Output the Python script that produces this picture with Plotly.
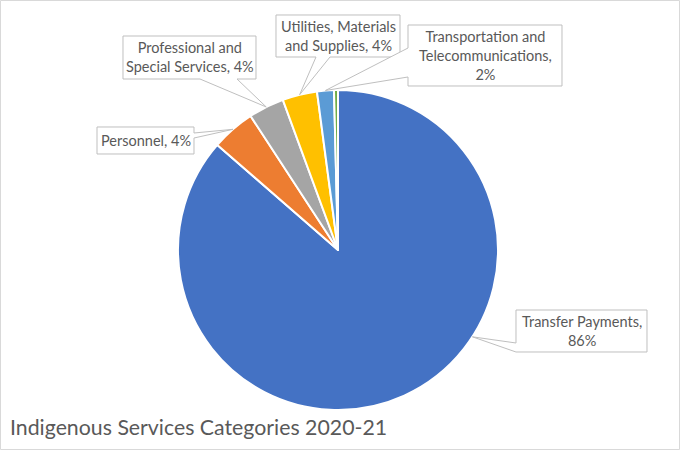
import math
import plotly.graph_objects as go

# data (percent of total spending)
categories = [
    "Transfer Payments",
    "Personnel",
    "Professional and Special Services",
    "Utilities, Materials and Supplies",
    "Transportation and Telecommunications",
    "Other",
]
shares = [86.4, 4.4, 3.6, 3.5, 1.7, 0.4]
label_lines = [
    ["Transfer Payments,", "{p}"],
    ["Personnel, {p}"],
    ["Professional and", "Special Services, {p}"],
    ["Utilities, Materials", "and Supplies, {p}"],
    ["Transportation and", "Telecommunications,", "{p}"],
    None,
]
colors = ["#4472C4", "#ED7D31", "#A5A5A5", "#FFC000", "#5B9BD5", "#70AD47"]

W, H = 680, 450
CX, CY, R = 338, 250, 160  # pie centre / radius in px
TEXT = "#595959"
FONT = "Lato"


def px(x):
    return x / W


def py(y):
    return 1 - y / H


# callout layout: box in px, side the tail leaves from, tail base, where on the slice it points
callouts = [
    dict(box=(516, 310, 647, 352), side="left", base=(343, 352), frac=0.395),
    dict(box=(97, 127, 194, 154), side="right", base=(133, 138), frac=0.5),
    dict(box=(123, 36, 256, 79), side="bottom", base=(200, 237), frac=0.5),
    dict(box=(276, 15, 400, 57), side="bottom", base=(316, 330), frac=0.5),
    dict(box=(408, 25, 562, 86), side="left", base=(48, 77), frac=0.5),
    None,
]

fig = go.Figure()
fig.add_trace(go.Pie(
    labels=categories,
    values=shares,
    sort=False,
    direction="clockwise",
    rotation=0,
    marker=dict(colors=colors, line=dict(color="white", width=2)),
    textinfo="none",
    hoverinfo="label+percent",
    domain=dict(x=[px(CX - R), px(CX + R)], y=[py(CY + R), py(CY - R)]),
    showlegend=False,
))

total = sum(shares)
start = 0.0
shapes = []
annotations = []
for i, v in enumerate(shares):
    width = v / total * 360
    c = callouts[i]
    if c is not None:
        ang = math.radians(start + width * c["frac"])
        ax_ = CX + R * math.sin(ang)
        ay_ = CY - R * math.cos(ang)
        x0, y0, x1, y1 = c["box"]
        b0, b1 = c["base"]
        if c["side"] == "bottom":
            pts = [(x0, y0), (x1, y0), (x1, y1), (b1, y1), (ax_, ay_), (b0, y1), (x0, y1)]
        elif c["side"] == "left":
            pts = [(x0, y0), (x1, y0), (x1, y1), (x0, y1), (x0, b1), (ax_, ay_), (x0, b0)]
        else:
            pts = [(x0, y0), (x1, y0), (x1, b0), (ax_, ay_), (x1, b1), (x1, y1), (x0, y1)]
        path = "M " + " L ".join(f"{px(a):.5f},{py(b):.5f}" for a, b in pts) + " Z"
        shapes.append(dict(type="path", xref="paper", yref="paper", path=path,
                           fillcolor="white", line=dict(color="#BFBFBF", width=1)))
        pct = f"{int(v / total * 100 + 0.5)}%"
        text = "<br>".join(s.format(p=pct) for s in label_lines[i])
        annotations.append(dict(
            x=px((x0 + x1) / 2), y=py((y0 + y1) / 2), xref="paper", yref="paper",
            text=text, showarrow=False, xanchor="center", yanchor="middle",
            font=dict(family=FONT, size=14.5, color=TEXT),
        ))
    start += width

# outer frame of the chart
shapes.insert(0, dict(type="rect", xref="paper", yref="paper", x0=px(0.5), x1=px(679.5),
                      y0=py(449.5), y1=py(0.5), line=dict(color="#D9D9D9", width=1)))

annotations.append(dict(
    x=px(8), y=py(427), xref="paper", yref="paper",
    text="Indigenous Services Categories 2020-21", showarrow=False,
    xanchor="left", yanchor="middle",
    font=dict(family=FONT, size=21.3, color=TEXT),
))

fig.update_layout(
    width=W, height=H,
    margin=dict(l=0, r=0, t=0, b=0),
    paper_bgcolor="white",
    plot_bgcolor="white",
    shapes=shapes,
    annotations=annotations,
)

fig.write_html(
    "out.html",
    config={"displayModeBar": False},
    post_script="document.body.style.margin='0';",
)
